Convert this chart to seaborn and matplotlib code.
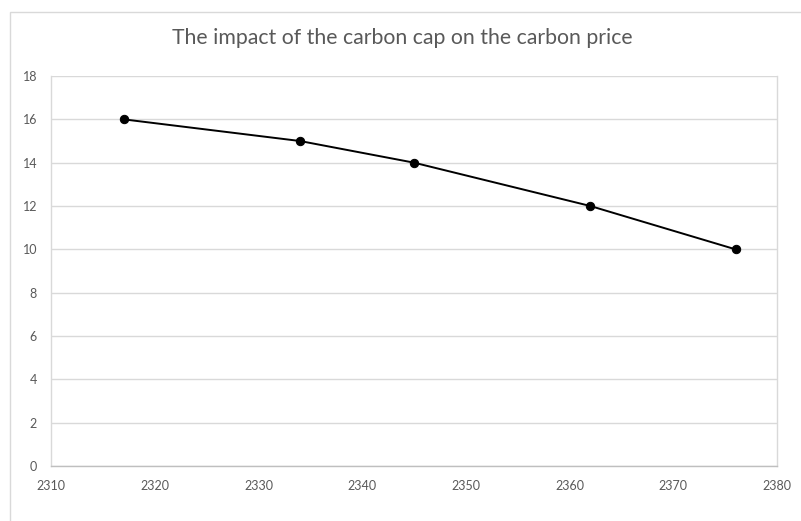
import matplotlib
matplotlib.use("Agg")
import matplotlib.pyplot as plt
import seaborn as sns
import pandas as pd
from matplotlib.patches import Rectangle

# ----------------------------
# Data
# ----------------------------
carbon_cap = [2317, 2334, 2345, 2362, 2376]
carbon_price = [16, 15, 14, 12, 10]
x_ticks = [2310, 2320, 2330, 2340, 2350, 2360, 2370, 2380]
y_ticks = [0, 2, 4, 6, 8, 10, 12, 14, 16, 18]

df = pd.DataFrame({"cap": carbon_cap, "price": carbon_price})

# ----------------------------
# Style
# ----------------------------
sns.set_theme(style="white")
plt.rcParams["font.family"] = ["Lato", "DejaVu Sans"]

grey_text = "#595959"
grid_col = "#d9d9d9"

fig = plt.figure(figsize=(8.01, 5.21), dpi=100)
ax = fig.add_axes([51 / 801, 55 / 521, 726 / 801, 390 / 521])

# chart area border
fig.patches.append(Rectangle((10 / 801, -0.05), 1.0, 1.0 - 12 / 521 + 0.05,
                             transform=fig.transFigure, fill=False,
                             edgecolor="#d9d9d9", linewidth=1.0))

sns.lineplot(data=df, x="cap", y="price", ax=ax, color="black",
             linewidth=1.4, marker="o", markersize=6,
             markeredgecolor="black", markerfacecolor="black")

ax.set_xlim(2310, 2380)
ax.set_ylim(0, 18)
ax.set_xticks(x_ticks)
ax.set_yticks(y_ticks)
ax.set_xlabel("")
ax.set_ylabel("")

ax.yaxis.grid(True, color=grid_col, linewidth=1.0)
ax.xaxis.grid(False)
ax.set_axisbelow(True)

for side in ["left", "right", "top"]:
    ax.spines[side].set_color(grid_col)
    ax.spines[side].set_linewidth(1.0)
ax.spines["top"].set_visible(False)
ax.spines["bottom"].set_color("#bfbfbf")
ax.spines["bottom"].set_linewidth(1.0)

ax.tick_params(axis="both", length=0, labelsize=9, labelcolor=grey_text)
ax.tick_params(axis="y", pad=10)
ax.tick_params(axis="x", pad=10)

fig.text(0.502, 0.927, "The impact of the carbon cap on the carbon price",
         ha="center", va="center", fontsize=15.3, color=grey_text)

plt.savefig("out.png", dpi=100)
